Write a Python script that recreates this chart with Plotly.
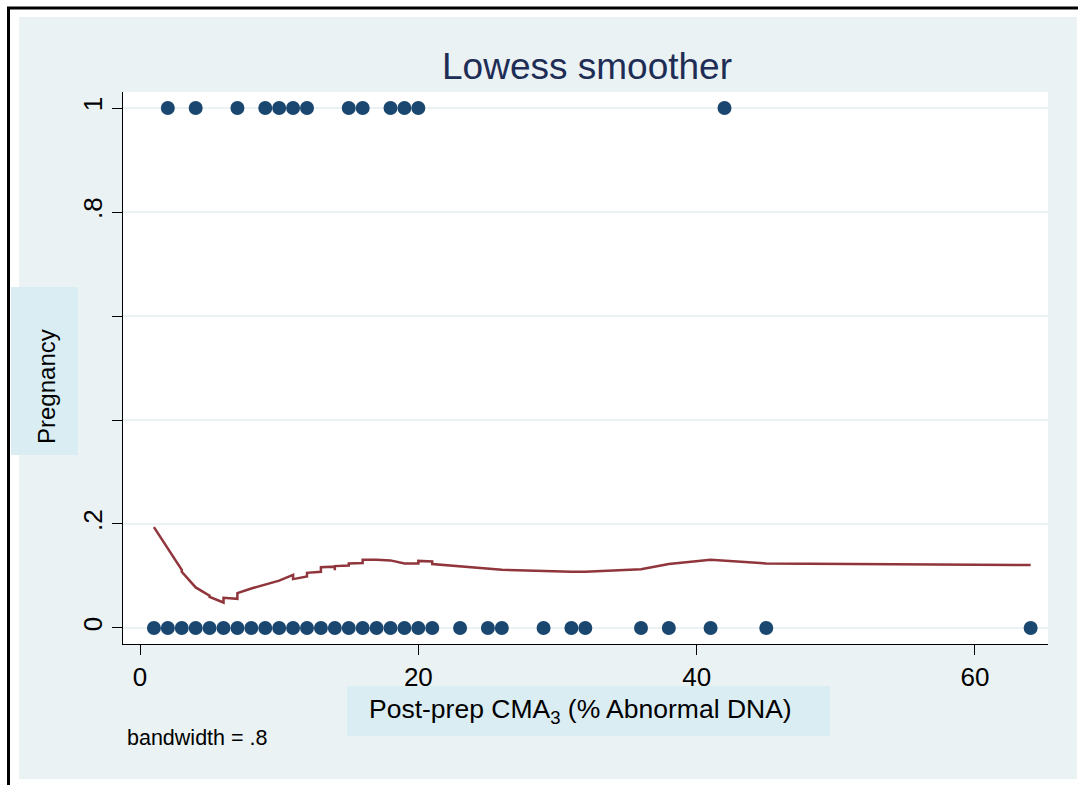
import plotly.graph_objects as go

# ---------------- data ----------------
preg1_x = [2, 4, 7, 9, 10, 11, 12, 15, 16, 18, 19, 20, 42]
preg0_x = [1, 2, 3, 4, 5, 6, 7, 8, 9, 10, 11, 12, 13, 14, 15, 16, 17, 18, 19, 20, 21,
           23, 25, 26, 29, 31, 32, 36, 38, 41, 45, 64]

lowess_x = [1, 3, 3, 4, 5, 5, 6, 6, 7, 7, 8, 9, 10, 11, 11, 12, 12, 13, 13, 14, 14, 14,
            15, 15, 16, 16, 17, 18, 19, 20, 20, 21, 21, 23, 26, 31, 32, 36, 38, 41, 45, 64]
lowess_y = [0.194, 0.112, 0.108, 0.078, 0.062, 0.060, 0.049, 0.058, 0.056, 0.067, 0.076,
            0.083, 0.091, 0.102, 0.094, 0.099, 0.106, 0.108, 0.117, 0.118, 0.111, 0.119,
            0.120, 0.124, 0.125, 0.131, 0.131, 0.130, 0.124, 0.124, 0.129, 0.128, 0.123,
            0.119, 0.112, 0.108, 0.108, 0.113, 0.123, 0.131, 0.124, 0.121]

x_ticks = [0, 20, 40, 60]
y_ticks = [0, 0.2, 0.4, 0.6, 0.8, 1]
y_ticktext = ["0", ".2", ".4", ".6", ".8", "1"]

# ---------------- layout geometry (pixels) ----------------
W, H = 1078, 785
PL, PR, PT, PB = 123, 1048, 92, 644   # plot area


def px(xp):
    return (xp - PL) / (PR - PL)


def py(yp):
    return (PB - yp) / (PB - PT)


BG = "#EAF2F3"
BOX = "#DAEDF3"
NAVY = "#1A476F"
MAROON = "#90353B"
FONT = "Liberation Sans, Arial, sans-serif"

fig = go.Figure()
fig.add_trace(go.Scatter(x=preg0_x, y=[0] * len(preg0_x), mode="markers",
                         marker=dict(color=NAVY, size=14), cliponaxis=False, showlegend=False))
fig.add_trace(go.Scatter(x=preg1_x, y=[1] * len(preg1_x), mode="markers",
                         marker=dict(color=NAVY, size=14), cliponaxis=False, showlegend=False))
fig.add_trace(go.Scatter(x=lowess_x, y=lowess_y, mode="lines",
                         line=dict(color=MAROON, width=2.5), showlegend=False))

shapes = []
# white strips outside the grey background
for (x0, y0, x1, y1) in [(0, 0, W, 17), (0, 0, 19, H), (0, 779, W, H), (1077, 0, W, H)]:
    shapes.append(dict(type="rect", xref="paper", yref="paper", layer="below",
                       x0=px(x0), x1=px(x1), y0=py(y0), y1=py(y1),
                       fillcolor="white", line=dict(width=0)))
# black frame lines (top and left)
shapes.append(dict(type="line", xref="paper", yref="paper", layer="above",
                   x0=px(7), x1=px(W), y0=py(8), y1=py(8), line=dict(color="black", width=3)))
shapes.append(dict(type="line", xref="paper", yref="paper", layer="above",
                   x0=px(8.5), x1=px(8.5), y0=py(7), y1=py(H), line=dict(color="black", width=3)))
# region beside the y title box where the middle tick labels are hidden
shapes.append(dict(type="rect", xref="paper", yref="paper", layer="above",
                   x0=px(78), x1=px(111), y0=py(290), y1=py(452),
                   fillcolor=BG, line=dict(width=0)))
# axis title boxes
shapes.append(dict(type="rect", xref="paper", yref="paper", layer="above",
                   x0=px(11), x1=px(78), y0=py(287), y1=py(455),
                   fillcolor=BOX, line=dict(width=0)))
shapes.append(dict(type="rect", xref="paper", yref="paper", layer="above",
                   x0=px(347), x1=px(830), y0=py(686), y1=py(736),
                   fillcolor=BOX, line=dict(width=0)))

annotations = [
    dict(text="Lowess smoother", xref="paper", yref="paper", x=px(587), y=py(67),
         showarrow=False, xanchor="center", yanchor="middle",
         font=dict(family=FONT, size=37, color="#1E2D55")),
    dict(text="Pregnancy", xref="paper", yref="paper", x=px(46), y=py(387),
         showarrow=False, xanchor="center", yanchor="middle", textangle=-90,
         font=dict(family=FONT, size=24, color="black")),
    dict(text="Post-prep CMA<sub>3</sub> (% Abnormal DNA)", xref="paper", yref="paper",
         x=px(580), y=py(711), showarrow=False, xanchor="center", yanchor="middle",
         font=dict(family=FONT, size=26.5, color="black")),
    dict(text="bandwidth = .8", xref="paper", yref="paper", x=px(125), y=py(738),
         showarrow=False, xanchor="left", yanchor="middle",
         font=dict(family=FONT, size=21.5, color="black")),
]

fig.update_layout(
    width=W, height=H,
    margin=dict(l=PL, r=W - PR, t=PT, b=H - PB, pad=0),
    paper_bgcolor=BG, plot_bgcolor="white",
    shapes=shapes, annotations=annotations,
    xaxis=dict(range=[-1.2216, 65.246], tickvals=x_ticks, ticks="outside", ticklen=10,
               tickcolor="black", showline=True, linecolor="black", linewidth=1,
               showgrid=False, zeroline=False,
               tickfont=dict(family=FONT, size=26, color="black")),
    yaxis=dict(range=[-0.0308, 1.0308], tickvals=y_ticks, ticktext=y_ticktext,
               tickangle=-90, ticks="outside", ticklen=10, tickcolor="black",
               showline=True, linecolor="black", linewidth=1,
               showgrid=True, gridcolor=BG, gridwidth=2, zeroline=False,
               tickfont=dict(family=FONT, size=26, color="black")),
)

fig.write_html("out.html")
